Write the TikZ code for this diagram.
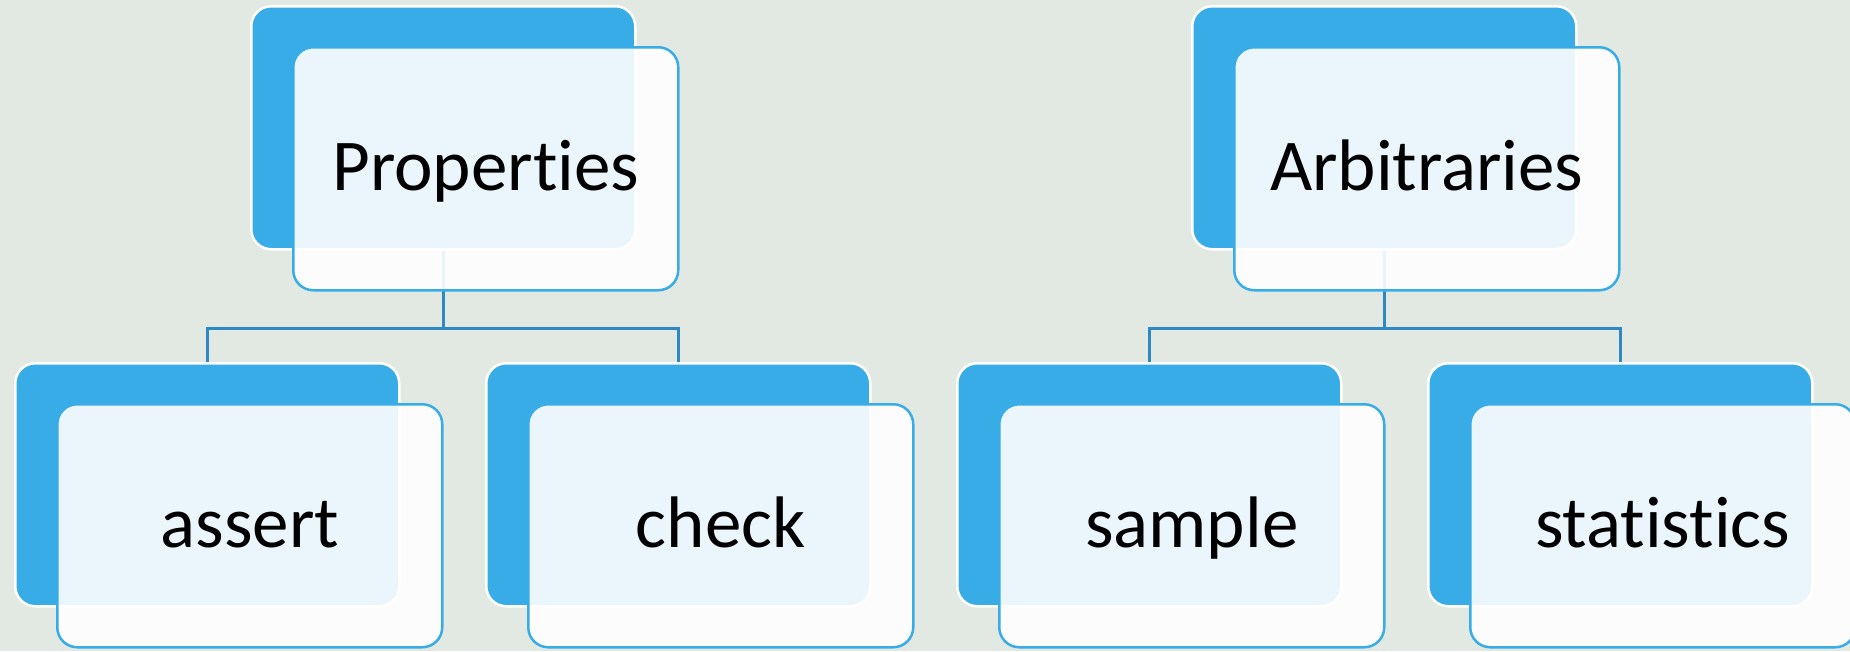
\documentclass[tikz,border=0pt]{standalone}
\usepackage{fontspec}
\setmainfont{Carlito}[Ligatures={NoCommon,NoContextual}]
\definecolor{bg}{HTML}{E2E9E2}
\definecolor{accent}{HTML}{38ACE6}
\definecolor{connc}{HTML}{2E88C2}
\tikzset{
  backbox/.style={rectangle, rounded corners=20pt, fill=accent, draw=white, line width=2.5pt,
    minimum width=384pt, minimum height=243pt, anchor=north west, inner sep=0pt},
  frontbox/.style={rectangle, rounded corners=20pt, fill=white, fill opacity=0.9, draw=accent, line width=2.5pt,
    minimum width=385pt, minimum height=243pt, anchor=north west, inner sep=0pt},
  lbl/.style={anchor=base, inner sep=0pt, font=\fontsize{73}{80}\selectfont, text=black},
  conn/.style={draw=connc, line width=3pt}
}
\begin{document}
\begin{tikzpicture}[x=1pt, y=-1pt]
\fill[bg] (0,0) rectangle (1850,651);
\clip (0,0) rectangle (1850,651);
\useasboundingbox (0,0) rectangle (1850,651);
% back boxes
\node[backbox] (bp) at (250,5) {};
\node[backbox] (br) at (1191,5) {};
\node[backbox] (ba) at (14,362) {};
\node[backbox] (bc) at (485,362) {};
\node[backbox] (bs) at (956,362) {};
\node[backbox] (bt) at (1427,362) {};
% connectors
\draw[conn] (bp.south) -- ++(0,77.5) -| (ba.north);
\draw[conn] (bp.south) -- ++(0,77.5) -| (bc.north);
\draw[conn] (br.south) -- ++(0,77.5) -| (bs.north);
\draw[conn] (br.south) -- ++(0,77.5) -| (bt.north);
% front boxes
\node[frontbox] (fp) at (292,46) {};
\node[frontbox] (fr) at (1233,46) {};
\node[frontbox] (fa) at (56,403) {};
\node[frontbox] (fc) at (527,403) {};
\node[frontbox] (fs) at (998,403) {};
\node[frontbox] (ft) at (1469,403) {};
% labels
\node[lbl] (tp) at ([yshift=-144pt]fp.north) {Properties};
\node[lbl] (tr) at ([yshift=-144pt]fr.north) {Arbitraries};
\node[lbl] (ta) at ([yshift=-144pt]fa.north) {assert};
\node[lbl] (tc) at ([yshift=-144pt]fc.north) {check};
\node[lbl] (ts) at ([yshift=-144pt]fs.north) {sample};
\node[lbl] (tt) at ([yshift=-144pt]ft.north) {statistics};
\end{tikzpicture}
\end{document}
